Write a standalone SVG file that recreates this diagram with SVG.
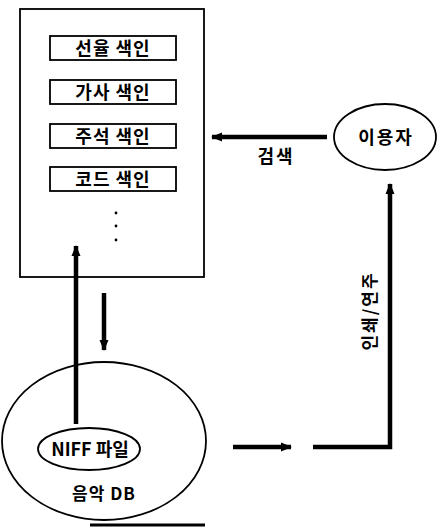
<svg xmlns="http://www.w3.org/2000/svg" width="438" height="528" viewBox="0 0 438 528">
<style>
text{font-family:"Noto Sans CJK KR","Noto Sans",sans-serif;fill:#000;font-weight:bold;}
.lbl{font-size:18px;text-anchor:middle;letter-spacing:1px;}
.box{fill:#fff;stroke:#000;stroke-width:1.8;}
.ell{fill:#fff;stroke:#000;stroke-width:1.8;}
.conn{stroke:#000;stroke-width:4.5;fill:none;}
</style>
<defs>
<marker id="ah" markerUnits="userSpaceOnUse" markerWidth="12" markerHeight="12" refX="10" refY="6" orient="auto">
<path d="M0,1.5 L11,6 L0,10.5 Z" fill="#000"/>
</marker>
</defs>
<g id="index-store">
<rect class="box" x="20" y="9" width="184" height="268"/>
<g id="melody-index"><rect class="box" x="50" y="36" width="126" height="24"/><text class="lbl" x="113" y="55">선율 색인</text></g>
<g id="lyrics-index"><rect class="box" x="50" y="80" width="126" height="24"/><text class="lbl" x="113" y="99">가사 색인</text></g>
<g id="annotation-index"><rect class="box" x="50" y="124" width="126" height="24"/><text class="lbl" x="113" y="143">주석 색인</text></g>
<g id="chord-index"><rect class="box" x="50" y="167" width="126" height="24"/><text class="lbl" x="113" y="186">코드 색인</text></g>
<circle cx="116" cy="213" r="1.4" fill="#000"/>
<circle cx="116" cy="226" r="1.4" fill="#000"/>
<circle cx="116" cy="240" r="1.4" fill="#000"/>
</g>
<g id="music-db">
<ellipse class="ell" cx="104" cy="441" rx="102" ry="79"/>
<text class="lbl" x="104" y="500" style="font-size:17px">음악 DB</text>
</g>
<g id="niff-file">
<ellipse class="ell" cx="89" cy="449" rx="51" ry="21"/>
<text class="lbl" x="90" y="456" style="letter-spacing:0">NIFF 파일</text>
</g>
<g id="user">
<ellipse class="ell" cx="385" cy="137" rx="51" ry="33"/>
<text class="lbl" x="386" y="144" style="letter-spacing:2px">이용자</text>
</g>
<g id="connectors">
<line class="conn" x1="76" y1="424" x2="76" y2="246" marker-end="url(#ah)"/>
<line class="conn" x1="104" y1="293" x2="104" y2="350" marker-end="url(#ah)"/>
<line class="conn" x1="327" y1="137" x2="212" y2="137" marker-end="url(#ah)"/>
<line class="conn" x1="233" y1="447" x2="291" y2="447" marker-end="url(#ah)"/>
<polyline class="conn" points="313,447 390,447 390,184" marker-end="url(#ah)"/>
<line stroke="#000" stroke-width="3" x1="90" y1="525" x2="205" y2="525"/>
<text class="lbl" x="276" y="163" style="letter-spacing:2px">검색</text>
<text class="lbl" transform="translate(376,311) rotate(-90)" x="0" y="0" style="font-size:17px;letter-spacing:2px">인쇄/연주</text>
</g>
</svg>
